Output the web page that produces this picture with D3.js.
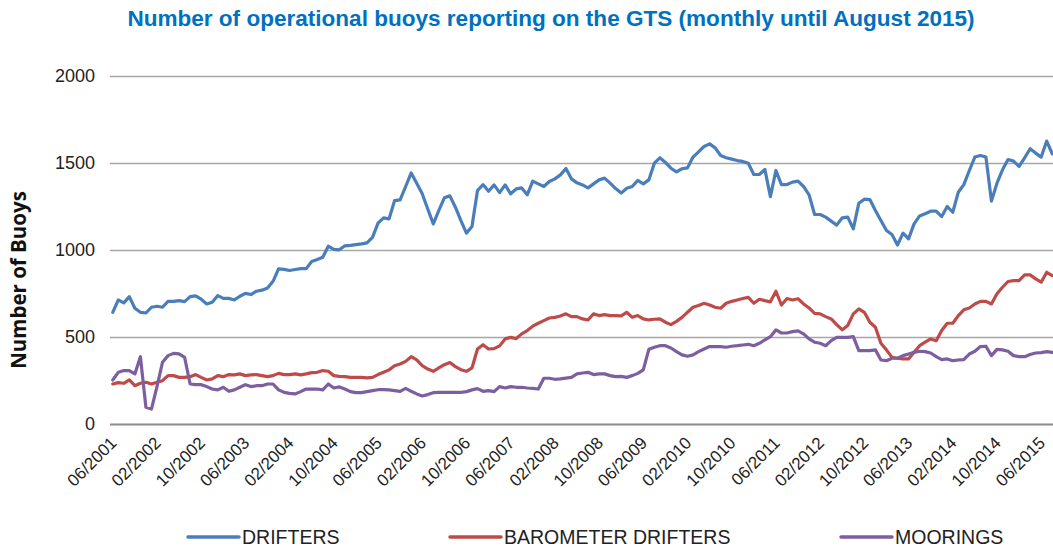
<!DOCTYPE html>
<meta charset="utf-8">
<style>
  body { margin: 0; background: #fff; }
  svg { display: block; }
</style>
<svg width="1053" height="551" font-family="'Liberation Sans', Arial, sans-serif"></svg>
<script src="https://d3js.org/d3.v7.min.js"></script>
<script>

// monthly values, 06/2001 .. 08/2015
var startMonth = new Date(2001, 5, 1);

var drifters = [642,713,696,732,665,642,638,671,677,671,705,705,709,703,732,736,717,690,700,738,
  722,722,713,734,751,744,763,769,782,820,891,889,882,888,893,893,934,945,958,1022,
  1004,1001,1024,1027,1031,1035,1041,1073,1154,1185,1179,1284,1288,1365,1443,1384,1323,1236,1150,1227,
  1300,1311,1246,1169,1097,1135,1342,1376,1338,1374,1330,1374,1323,1351,1357,1317,1396,1380,1365,1394,
  1409,1432,1468,1409,1386,1374,1357,1380,1403,1413,1384,1353,1327,1355,1365,1400,1380,1403,1499,1530,
  1503,1470,1449,1467,1472,1534,1564,1595,1610,1587,1543,1530,1522,1514,1509,1499,1434,1434,1463,1307,
  1457,1376,1376,1390,1396,1365,1317,1204,1204,1189,1166,1143,1185,1189,1121,1269,1292,1290,1227,1169,
  1112,1089,1029,1097,1064,1150,1196,1208,1223,1223,1192,1250,1217,1332,1376,1457,1534,1543,1534,1281,
  1384,1461,1520,1511,1480,1530,1582,1557,1534,1626,1553];

var barometer = [230,238,234,253,220,234,240,230,240,249,278,278,268,268,272,284,268,253,259,278,
  272,284,282,288,278,282,284,278,272,278,291,284,284,288,282,288,295,297,307,303,
  278,274,272,268,268,268,265,268,284,297,311,335,345,360,387,368,335,316,303,322,
  341,353,330,312,303,322,431,456,431,433,449,489,498,491,518,537,562,579,594,609,
  613,621,633,617,617,604,598,633,623,629,623,623,621,642,613,623,604,598,602,604,
  585,571,590,613,642,671,681,694,684,671,665,694,705,713,721,728,694,717,709,702,
  763,684,721,713,720,690,667,636,633,617,604,571,541,566,633,661,642,585,556,464,
  426,383,378,374,374,412,450,470,489,479,537,579,579,623,656,667,690,705,705,690,
  748,786,819,824,824,857,857,834,815,872,853];

var moorings = [253,297,307,307,288,387,96,86,215,355,393,406,403,383,230,226,226,215,201,196,
  211,188,196,211,226,215,220,220,230,230,196,182,176,173,186,201,201,201,196,230,
  207,213,201,186,180,180,186,192,197,197,196,192,188,205,188,173,161,169,180,182,
  182,182,182,182,186,196,203,188,192,186,215,207,215,211,211,207,205,201,263,263,
  257,259,264,268,288,293,297,284,288,288,278,272,274,268,278,291,311,429,441,450,
  450,437,416,397,389,397,416,431,445,445,445,441,447,450,454,458,450,464,483,502,
  541,523,523,531,535,518,489,470,464,450,479,498,498,498,502,422,422,422,426,368,
  364,378,378,393,402,412,418,416,408,387,370,374,364,368,370,402,418,445,447,393,
  429,426,418,393,387,387,399,408,410,416,412];

var seriesNames = ["DRIFTERS", "BAROMETER DRIFTERS", "MOORINGS"];
var seriesColors = ["#4A7EBB", "#BE4B48", "#7D5FA0"];
var yTicks = [0, 500, 1000, 1500, 2000];
var labelEvery = 8; // a tick label every 8 months

var svg = d3.select("svg"),
    plot = {left: 110, right: 1055, top: 76, bottom: 424};

var months = drifters.map(function(d, i) { return d3.timeMonth.offset(startMonth, i); });
var fmt = d3.timeFormat("%m/%Y");

var x = d3.scaleBand()
    .domain(d3.range(months.length))
    .range([plot.left, plot.right]);

var y = d3.scaleLinear()
    .domain([0, 2000])
    .range([plot.bottom, plot.top]);

// gridlines
svg.append("g")
  .selectAll("line")
  .data(yTicks)
  .enter().append("line")
    .attr("x1", plot.left)
    .attr("x2", plot.right)
    .attr("y1", function(d) { return Math.round(y(d)) + 0.5; })
    .attr("y2", function(d) { return Math.round(y(d)) + 0.5; })
    .attr("stroke", function(d) { return d === 0 ? "#8c8c8c" : "#a6a6a6"; })
    .attr("stroke-width", function(d) { return d === 0 ? 2 : 1.5; });

// y tick labels
svg.append("g")
  .selectAll("text")
  .data(yTicks)
  .enter().append("text")
    .attr("x", 95)
    .attr("y", function(d) { return y(d); })
    .attr("dy", "0.36em")
    .attr("text-anchor", "end")
    .attr("font-size", 18)
    .attr("fill", "#222")
    .text(function(d) { return d; });

// x tick labels
svg.append("g")
  .selectAll("text")
  .data(d3.range(0, months.length, labelEvery))
  .enter().append("text")
    .attr("transform", function(i) {
      return "translate(" + (x(i) + x.bandwidth() / 2 + 5) + "," + (plot.bottom + 20) + ")rotate(-45)";
    })
    .attr("text-anchor", "end")
    .attr("font-size", 17)
    .attr("fill", "#222")
    .text(function(i) { return fmt(months[i]); });

// series lines
var line = d3.line()
    .x(function(d, i) { return x(i) + x.bandwidth() / 2; })
    .y(function(d) { return y(d); });

[drifters, barometer, moorings].forEach(function(s, k) {
  svg.append("path")
      .datum(s)
      .attr("fill", "none")
      .attr("stroke", seriesColors[k])
      .attr("stroke-width", 3.2)
      .attr("stroke-linejoin", "round")
      .attr("stroke-linecap", "round")
      .attr("d", line);
});

// title, sized to span the same width as the original
var title = svg.append("text")
    .attr("x", 551)
    .attr("y", 26)
    .attr("text-anchor", "middle")
    .attr("font-size", 20)
    .attr("font-weight", "bold")
    .attr("fill", "#0070C0")
    .text("Number of operational buoys reporting on the GTS (monthly until August 2015)");
var tw = title.node().getComputedTextLength();
title.attr("font-size", 20 * 848 / tw);

// y axis title
svg.append("text")
    .attr("transform", "translate(26,280)rotate(-90)")
    .attr("text-anchor", "middle")
    .attr("font-family", "'Open Sans', sans-serif")
    .attr("font-size", 20.5)
    .attr("font-weight", "bold")
    .attr("fill", "#111")
    .text("Number of Buoys");

// legend
var legendX = [188, 450, 841];
var legend = svg.append("g")
  .selectAll("g")
  .data(seriesNames)
  .enter().append("g")
    .attr("transform", function(d, i) { return "translate(" + legendX[i] + ",537)"; });

legend.append("line")
    .attr("x2", 51)
    .attr("stroke", function(d, i) { return seriesColors[i]; })
    .attr("stroke-width", 3.5)
    .attr("stroke-linecap", "round");

legend.append("text")
    .attr("x", 54)
    .attr("dy", "0.36em")
    .attr("font-size", 19.5)
    .attr("fill", "#222")
    .text(function(d) { return d; });

</script>
